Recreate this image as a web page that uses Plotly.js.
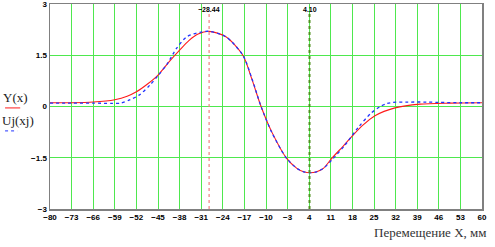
<!DOCTYPE html>
<html>
<head>
<meta charset="utf-8">
<script src="https://cdn.plot.ly/plotly-3.0.1.min.js"></script>
<style>html,body{margin:0;padding:0;background:#fff;}#chart{width:495px;height:247px;}</style>
</head>
<body>
<div id="chart"></div>
<script>
// Y(x) — red solid curve
const xY = [-80, -73, -66, -59, -55, -52, -48.5, -45, -41.5, -38, -35, -32, -28.44, -23, -17.5, -14.5, -11.6, -8.1, -3.3, 0.0, 2.2, 4.3, 6.4, 8.6, 11.3, 15.1, 18.3, 21.5, 25.3, 31.8, 39.9, 49.6, 60];
const yY = [0.11, 0.11, 0.13, 0.2, 0.3, 0.43, 0.65, 0.92, 1.3, 1.65, 1.93, 2.12, 2.2, 2.04, 1.5, 0.78, 0.0, -0.75, -1.52, -1.81, -1.91, -1.94, -1.91, -1.81, -1.52, -1.15, -0.83, -0.54, -0.27, -0.04, 0.07, 0.10, 0.11];
// Uj(xj) — blue dotted curve
const xU = [-80, -73, -66, -60, -57, -54, -51, -47.6, -45, -42, -39, -35.7, -31.4, -28.44, -23, -17.5, -14.5, -11.6, -8, -3.3, 0.0, 2.2, 4.3, 6.4, 8.6, 11.6, 15.5, 20, 24, 27, 29, 31, 36, 42, 46, 53, 60];
const yU = [0.1, 0.1, 0.1, 0.09, 0.1, 0.2, 0.34, 0.63, 0.9, 1.25, 1.7, 2.04, 2.17, 2.2, 2.04, 1.5, 0.8, 0.0, -0.78, -1.52, -1.81, -1.91, -1.94, -1.91, -1.81, -1.54, -1.14, -0.6, -0.2, 0.0, 0.08, 0.12, 0.13, 0.13, 0.12, 0.11, 0.11];
// x ticks
const xTicks = [-80, -73, -66, -59, -52, -45, -38, -31, -24, -17, -10, -3, 4, 11, 18, 25, 32, 39, 46, 53, 60];
// y ticks
const yTicks = [3, 1.5, 0, -1.5, -3];
const yTickText = ['3', '1.5', '0', '\u22121.5', '\u22123'];
// markers
const markerX = [-28.44, 4.10];
const markerLabels = ['\u221228.44', '4.10'];

const serif = 'Liberation Serif, Times New Roman, serif';
const tickFont = {family: 'Liberation Sans, Arial, sans-serif', size: 8, color: '#000', weight: 'bold'};
const gridCol = '#4ee84e';

const traces = [
  {x: xY, y: yY, type: 'scatter', mode: 'lines', line: {color: '#ff1a1a', width: 1.1, shape: 'spline', smoothing: 0.8}, hoverinfo: 'skip'},
  {x: xU, y: yU, type: 'scatter', mode: 'lines', line: {color: '#2233ff', width: 1.3, dash: 'dot', shape: 'spline', smoothing: 0.8}, hoverinfo: 'skip'}
];

const shapes = [
  {type: 'line', xref: 'x', yref: 'paper', x0: markerX[0], x1: markerX[0], y0: 0, y1: 0.955, line: {color: '#f08080', width: 1.2, dash: 'dot'}},
  {type: 'line', xref: 'x', yref: 'paper', x0: markerX[1], x1: markerX[1], y0: 0, y1: 0.955, line: {color: '#4f8f1f', width: 2, dash: 'dot'}},
  // legend samples
  {type: 'line', xref: 'paper', yref: 'paper', x0: -0.104, x1: -0.069, y0: 0.493, y1: 0.493, line: {color: '#ff1a1a', width: 1}},
  {type: 'line', xref: 'paper', yref: 'paper', x0: -0.104, x1: -0.076, y0: 0.381, y1: 0.381, line: {color: '#2233ff', width: 1, dash: 'dot'}}
];

const annotations = [
  {text: markerLabels[0], xref: 'x', yref: 'paper', x: markerX[0], y: 0.975, xanchor: 'center', yanchor: 'middle', showarrow: false, font: {family: 'Liberation Sans, Arial, sans-serif', size: 7, color: '#000', weight: 'bold'}},
  {text: markerLabels[1], xref: 'x', yref: 'paper', x: markerX[1], y: 0.975, xanchor: 'center', yanchor: 'middle', showarrow: false, font: {family: 'Liberation Sans, Arial, sans-serif', size: 7, color: '#000', weight: 'bold'}},
  {text: 'Y(x)', xref: 'paper', yref: 'paper', x: -0.079, y: 0.546, xanchor: 'center', yanchor: 'middle', showarrow: false, font: {family: serif, size: 13, color: '#222'}},
  {text: 'Uj(xj)', xref: 'paper', yref: 'paper', x: -0.075, y: 0.434, xanchor: 'center', yanchor: 'middle', showarrow: false, font: {family: serif, size: 13, color: '#222'}},
  {text: 'Перемещение X, мм', xref: 'paper', yref: 'paper', x: 1.014, y: -0.117, xanchor: 'right', yanchor: 'middle', showarrow: false, font: {family: serif, size: 13, color: '#333'}}
];

const layout = {
  width: 495, height: 247,
  margin: {l: 50, r: 13, t: 4, b: 38, pad: 0},
  paper_bgcolor: '#fff', plot_bgcolor: '#fff',
  showlegend: false,
  xaxis: {
    range: [-80, 60], tickmode: 'array', tickvals: xTicks,
    showgrid: true, gridcolor: gridCol, gridwidth: 1,
    zeroline: false, showline: true, linecolor: '#808080', linewidth: 1.5, mirror: true,
    ticks: '', tickfont: tickFont, ticklabeloverflow: 'allow', fixedrange: true
  },
  yaxis: {
    range: [-3, 3], tickmode: 'array', tickvals: yTicks, ticktext: yTickText,
    showgrid: true, gridcolor: gridCol, gridwidth: 1,
    zeroline: false, showline: true, linecolor: '#808080', linewidth: 1.5, mirror: true,
    ticks: '', tickfont: tickFont, ticklabeloverflow: 'allow', fixedrange: true
  },
  shapes: shapes,
  annotations: annotations
};

Plotly.newPlot('chart', traces, layout, {staticPlot: true, displayModeBar: false});
</script>
</body>
</html>
